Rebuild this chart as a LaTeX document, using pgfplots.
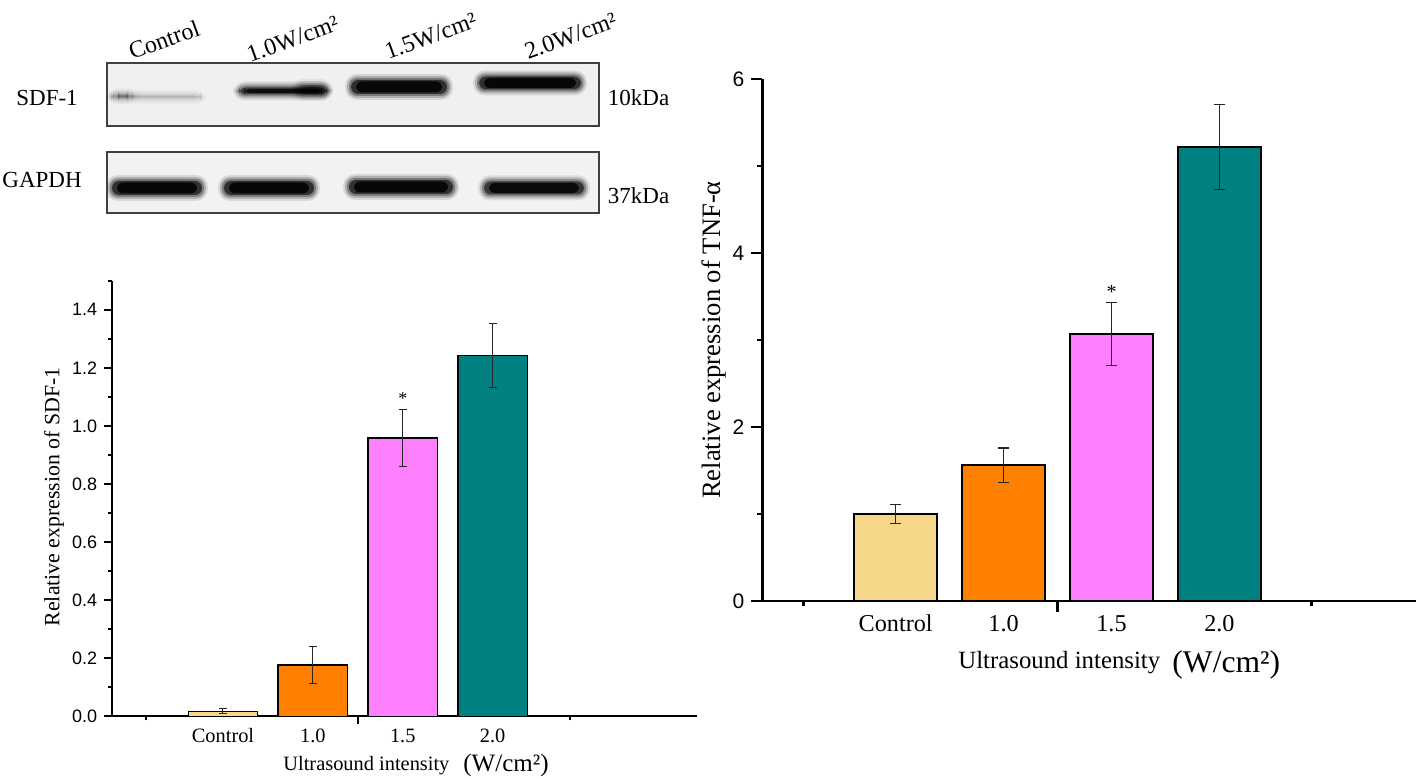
\documentclass[border=0pt]{standalone}
\usepackage{fontspec}
\setmainfont{Liberation Serif}
\setsansfont{Liberation Sans}
\usepackage{pgfplots}
\pgfplotsset{compat=1.18}
\definecolor{ctrl}{HTML}{F7D88A}
\definecolor{orng}{HTML}{FF8000}
\definecolor{pnk}{HTML}{FF80FF}
\definecolor{tealc}{HTML}{008080}
\newcommand{\fs}[1]{\fontsize{#1}{#1}\selectfont}
% blurred western-blot band: x1, x2, y-centre, half-height, darkness (px units)
\newcommand{\band}[5]{%
  \fill[black,opacity=#5*0.10,rounded corners=6pt] ({#1-7},{#3-#4-6}) rectangle ({#2+7},{#3+#4+6});
  \fill[black,opacity=#5*0.18,rounded corners=5pt] ({#1-5},{#3-#4-4}) rectangle ({#2+5},{#3+#4+4});
  \fill[black,opacity=#5*0.30,rounded corners=4pt] ({#1-3},{#3-#4-2}) rectangle ({#2+3},{#3+#4+2});
  \fill[black,opacity=#5*0.60,rounded corners=3.5pt] ({#1-1},{#3-#4}) rectangle ({#2+1},{#3+#4});
  \fill[black,opacity=#5*0.85,rounded corners=3pt] ({#1+4},{#3-#4+1.5}) rectangle ({#2-4},{#3+#4-1.5});
}
\begin{document}
\begin{tikzpicture}
\path[use as bounding box] (0,0) rectangle (709pt,389.5pt);

% ---------------- western blot panel (pixel coordinates) ----------------
\begin{scope}[x=0.5pt,y=-0.5pt,yshift=389.5pt]
  \fill[black!6] (107,63) rectangle (599,126);
  \fill[black!5] (107,152) rectangle (599,213);
  % SDF-1 bands
  \band{112}{200}{97}{1.5}{0.2}
  \band{114}{132}{96}{2}{0.25}
  \band{240}{326}{91}{3.5}{0.9}
  \band{298}{326}{90}{5}{0.5}
  \band{352}{446}{87}{7}{1}
  \band{480}{580}{83}{6.5}{1}
  % GAPDH bands
  \band{113}{201}{188}{7}{1}
  \band{225}{313}{188}{7}{1}
  \band{350}{452}{187}{7}{1}
  \band{485}{583}{188}{6.5}{0.95}
  \draw[black!75,line width=0.6pt] (107,63) rectangle (599,126);
  \draw[black!75,line width=0.6pt] (107,152) rectangle (599,213);
  \node[anchor=base west,inner sep=0,font=\fs{11.5}] at (16,106) {SDF-1};
  \node[anchor=base west,inner sep=0,font=\fs{11.5}] at (2,187.3) {GAPDH};
  \node[anchor=base west,inner sep=0,font=\fs{11.5}] at (607.5,105.7) {10kDa};
  \node[anchor=base west,inner sep=0,font=\fs{11.5}] at (607.5,204) {37kDa};
  \node[anchor=base west,inner sep=0,rotate=20,font=\fs{12}] at (132,60) {Control};
  \node[anchor=base west,inner sep=0,rotate=20,font=\fs{12}] at (250,62.5) {1.0W/cm²};
  \node[anchor=base west,inner sep=0,rotate=20,font=\fs{12}] at (388,60) {1.5W/cm²};
  \node[anchor=base west,inner sep=0,rotate=20,font=\fs{12}] at (528,60) {2.0W/cm²};
  % axis titles
  \node[rotate=90,font=\fs{10.9}] at (54,497) {Relative expression of SDF-1};
  \node[anchor=base west,inner sep=0,font=\fs{10.2}] at (283,770.5) {Ultrasound intensity};
  \node[anchor=base west,inner sep=0,font=\fs{12.5}] at (463,771.5) {(W/cm²)};
  \node[rotate=90,font=\fs{13.3}] at (714,340) {Relative expression of TNF-α};
  \node[anchor=base west,inner sep=0,font=\fs{12.4}] at (958,668.3) {Ultrasound intensity};
  \node[anchor=base west,inner sep=0,font=\fs{15.8}] at (1172,673) {(W/cm²)};
\end{scope}

% ---------------- left chart: SDF-1 ----------------
\begin{axis}[
  at={(56.1pt,31.25pt)}, anchor=south west, scale only axis,
  width=292.4pt, height=217.9pt,
  xmin=-0.2325, xmax=6.273, ymin=0, ymax=1.5,
  axis x line*=bottom, axis y line*=left,
  axis line style={-, line width=1pt, black},
  tick align=outside,
  xtick={2.5}, xticklabels={}, minor xtick={0.145,4.855},
  ytick={0,0.2,0.4,0.6,0.8,1.0,1.2,1.4},
  minor ytick={0.1,0.3,0.5,0.7,0.9,1.1,1.3,1.5},
  major tick length=4pt, minor tick length=2pt,
  tick style={black, line width=1pt},
  yticklabel style={font=\fs{9}\sffamily, /pgf/number format/.cd, fixed, fixed zerofill, precision=1, assume math mode=true},
  clip=false,
  every axis plot/.append style={ybar, bar width=0.773, bar shift=0pt, draw=black, line width=0.75pt},
  error bars/error bar style={line width=0.5pt, black!85},
  error bars/error mark options={rotate=90, line width=0.5pt, black!85, mark size=2pt},
]
\addplot[fill=ctrl, error bars/.cd, y dir=both, y explicit] coordinates {(1,0.018) +- (0,0.008)};
\addplot[fill=orng, error bars/.cd, y dir=both, y explicit] coordinates {(2,0.177) +- (0,0.065)};
\addplot[fill=pnk, error bars/.cd, y dir=both, y explicit] coordinates {(3,0.959) +- (0,0.097)};
\addplot[fill=tealc, error bars/.cd, y dir=both, y explicit] coordinates {(4,1.243) +- (0,0.111)};
\node[font=\fs{9}] at (axis cs:3,1.106) [yshift=-1.6pt] {*};
\node[anchor=base,font=\fs{10.2}] at (axis cs:1,0) [yshift=-13.1pt] {Control};
\node[anchor=base,font=\fs{10.2}] at (axis cs:2,0) [yshift=-13.1pt] {1.0};
\node[anchor=base,font=\fs{10.2}] at (axis cs:3,0) [yshift=-13.1pt] {1.5};
\node[anchor=base,font=\fs{10.2}] at (axis cs:4,0) [yshift=-13.1pt] {2.0};
\end{axis}

% ---------------- right chart: TNF-alpha ----------------
\begin{axis}[
  at={(381.15pt,89pt)}, anchor=south west, scale only axis,
  width=326.85pt, height=260.85pt,
  xmin=-0.2363, xmax=5.822, ymin=0, ymax=6,
  axis x line*=bottom, axis y line*=left,
  axis line style={-, line width=1.2pt, black},
  tick align=outside,
  xtick={2.5}, xticklabels={}, minor xtick={0.144,4.852},
  ytick={0,2,4,6}, minor ytick={1,3,5},
  major tick length=5.5pt, minor tick length=2.75pt,
  tick style={black, line width=1.2pt},
  yticklabel style={font=\fs{10.5}\sffamily, /pgf/number format/assume math mode=true},
  clip=false,
  every axis plot/.append style={ybar, bar width=0.774, bar shift=0pt, draw=black, line width=1pt},
  error bars/error bar style={line width=0.6pt, black!85},
  error bars/error mark options={rotate=90, line width=0.6pt, black!85, mark size=2.7pt},
]
\addplot[fill=ctrl, error bars/.cd, y dir=both, y explicit] coordinates {(1,1.00) +- (0,0.11)};
\addplot[fill=orng, error bars/.cd, y dir=both, y explicit] coordinates {(2,1.56) +- (0,0.20)};
\addplot[fill=pnk, error bars/.cd, y dir=both, y explicit] coordinates {(3,3.07) +- (0,0.36)};
\addplot[fill=tealc, error bars/.cd, y dir=both, y explicit] coordinates {(4,5.22) +- (0,0.49)};
\node[font=\fs{10}] at (axis cs:3,3.60) [yshift=-1.8pt] {*};
\node[anchor=base,font=\fs{12.1}] at (axis cs:1,0) [yshift=-15.35pt] {Control};
\node[anchor=base,font=\fs{12.1}] at (axis cs:2,0) [yshift=-15.35pt] {1.0};
\node[anchor=base,font=\fs{12.1}] at (axis cs:3,0) [yshift=-15.35pt] {1.5};
\node[anchor=base,font=\fs{12.1}] at (axis cs:4,0) [yshift=-15.35pt] {2.0};
\end{axis}
\end{tikzpicture}
\end{document}
